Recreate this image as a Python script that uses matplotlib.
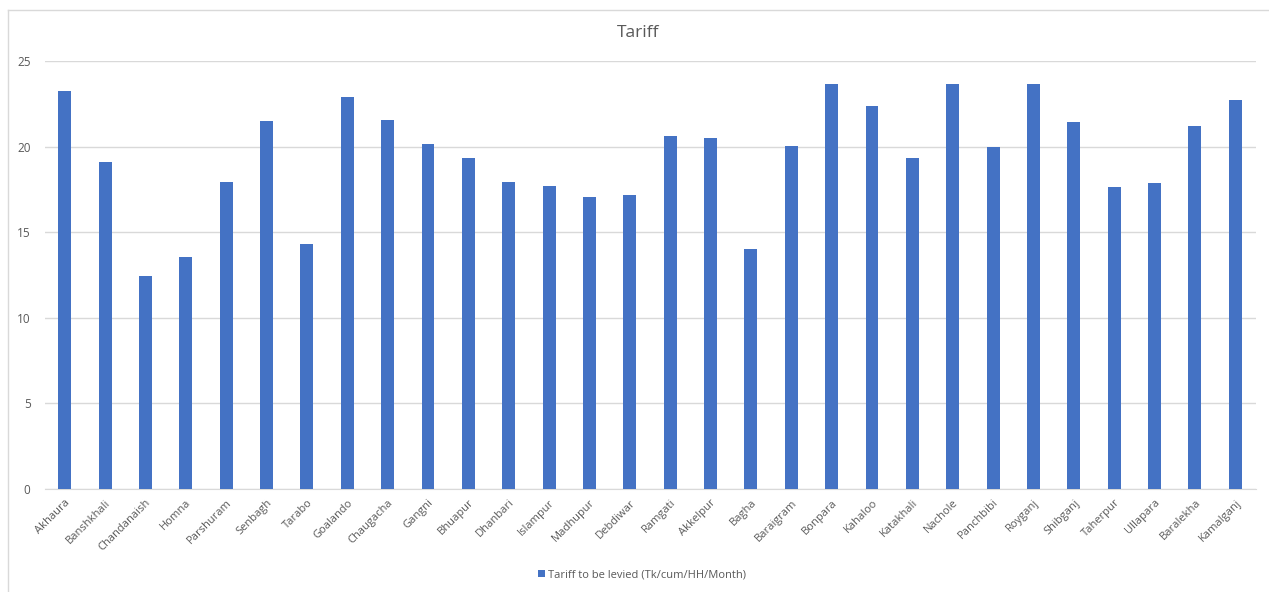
import matplotlib
matplotlib.use("Agg")
import matplotlib.pyplot as plt
from matplotlib.lines import Line2D

categories = ["Akhaura", "Banshkhali", "Chandanaish", "Homna", "Parshuram", "Senbagh",
              "Tarabo", "Goalando", "Chaugacha", "Gangni", "Bhuapur", "Dhanbari",
              "Islampur", "Madhupur", "Debdiwar", "Ramgati", "Akkelpur", "Bagha",
              "Baraigram", "Bonpara", "Kahaloo", "Katakhali", "Nachole", "Panchbibi",
              "Royganj", "Shibganj", "Taherpur", "Ullapara", "Baralekha", "Kamalganj"]
values = [23.24, 19.10, 12.46, 13.57, 17.93, 21.48,
          14.30, 22.87, 21.56, 20.14, 19.32, 17.93,
          17.70, 17.05, 17.17, 20.61, 20.53, 14.04,
          20.06, 23.67, 22.38, 19.36, 23.63, 19.98,
          23.63, 21.45, 17.66, 17.85, 21.21, 22.75]
yticks = [0, 5, 10, 15, 20, 25]
series_name = "Tariff to be levied (Tk/cum/HH/Month)"
title = "Tariff"

plt.rcParams['font.family'] = ['Open Sans', 'DejaVu Sans']
txt = "#595959"
bar_color = "#4472C4"

fig = plt.figure(figsize=(12.69, 5.92), dpi=100)
ax = fig.add_axes([44.5/1269, 1-489/592, (1255.5-44.5)/1269, (489-61)/592])

x = list(range(len(categories)))
bars = ax.bar(x, values, width=0.32, color=bar_color, label=series_name, zorder=3)
ax.set_xlim(-0.5, len(categories) - 0.5)
ax.set_ylim(0, 25)
ax.set_yticks(yticks)
ax.set_yticklabels([str(t) for t in yticks], color=txt, fontsize=8.5)
ax.set_xticks(x)
ax.set_xticklabels(categories, rotation=45, ha='right', rotation_mode='anchor',
                   color=txt, fontsize=8)
ax.tick_params(axis='both', length=0)
ax.tick_params(axis='y', pad=10)
ax.tick_params(axis='x', pad=6)
ax.grid(axis='y', color='#d9d9d9', linewidth=1, zorder=0)
for s in ['top', 'right', 'left']:
    ax.spines[s].set_visible(False)
ax.spines['bottom'].set_color('#d9d9d9')

fig.text(638/1269, 1-33/592, title, ha='center', va='center', fontsize=12.5, color=txt)

leg = fig.legend(handles=[bars], labels=[series_name], loc='center',
                 bbox_to_anchor=(642/1269, 1-575/592), frameon=False,
                 fontsize=8, handlelength=0.6, handleheight=0.6, handletextpad=0.3,
                 labelcolor=txt)

# chart frame (left and top edges visible in the reference)
fig.add_artist(Line2D([8/1269, 8/1269], [0, 1-10/592], transform=fig.transFigure,
                      color='#d9d9d9', linewidth=1))
fig.add_artist(Line2D([8/1269, 1], [1-10/592, 1-10/592], transform=fig.transFigure,
                      color='#d9d9d9', linewidth=1))

fig.savefig("out.png", dpi=100)
